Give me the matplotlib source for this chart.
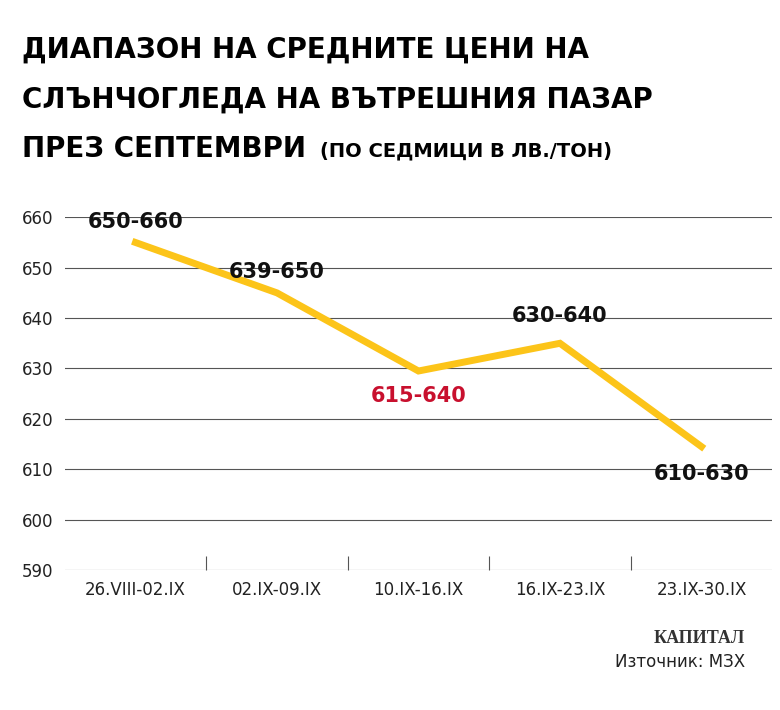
import matplotlib.pyplot as plt

# Данни
седмици = ["26.VIII-02.IX", "02.IX-09.IX", "10.IX-16.IX", "16.IX-23.IX", "23.IX-30.IX"]
цени = [655, 645, 629.5, 635, 614.5]
етикети = ["650-660", "639-650", "615-640", "630-640", "610-630"]
yticks = [590, 600, 610, 620, 630, 640, 650, 660]

fig = plt.figure(figsize=(7.8, 7.1), dpi=100)
ax = fig.add_axes([0.083, 0.197, 0.907, 0.497])

for y in yticks:
    ax.axhline(y, color="#555555", lw=0.8, zorder=1)

x = range(len(седмици))
ax.plot(x, цени, color="#fcc419", lw=5, solid_joinstyle="miter", zorder=2)

отмествания = [(0, 15), (0, 15), (0, -18), (0, 20), (0, -20)]
for i, (v, t, o) in enumerate(zip(цени, етикети, отмествания)):
    col = "#c8102e" if i == 2 else "#111111"
    ax.annotate(t, (i, v), xytext=o, textcoords="offset points", ha="center",
                va="center", fontsize=15, fontweight="bold", color=col, zorder=3)

ax.set_xlim(-0.5, 4.5)
ax.set_ylim(590, 660)
ax.set_yticks(yticks)
ax.set_xticks(list(x))
ax.set_xticklabels(седмици)
ax.set_xticks([0.5, 1.5, 2.5, 3.5], minor=True)
ax.tick_params(axis="y", length=0, labelsize=12, colors="#222222", pad=8)
ax.tick_params(axis="x", which="major", length=0, labelsize=12, colors="#222222", pad=8)
ax.tick_params(axis="x", which="minor", length=10, width=0.8, color="#555555", direction="in")
for s in ax.spines.values():
    s.set_visible(False)

fig.text(0.028, 0.93, "ДИАПАЗОН НА СРЕДНИТЕ ЦЕНИ НА", fontsize=20, fontweight="bold", va="center")
fig.text(0.028, 0.86, "СЛЪНЧОГЛЕДА НА ВЪТРЕШНИЯ ПАЗАР", fontsize=20, fontweight="bold", va="center")
fig.text(0.028, 0.79, "ПРЕЗ СЕПТЕМВРИ", fontsize=20, fontweight="bold", va="center")
fig.text(0.41, 0.788, "(ПО СЕДМИЦИ В ЛВ./ТОН)", fontsize=14, fontweight="bold", va="center")

fig.text(0.955, 0.101, "КАПИТАЛ", fontsize=13, fontweight="bold", family="Liberation Serif",
         ha="right", va="center", color="#333333")
fig.text(0.955, 0.068, "Източник: МЗХ", fontsize=12, ha="right", va="center", color="#222222")

fig.savefig("out.png", dpi=100)
